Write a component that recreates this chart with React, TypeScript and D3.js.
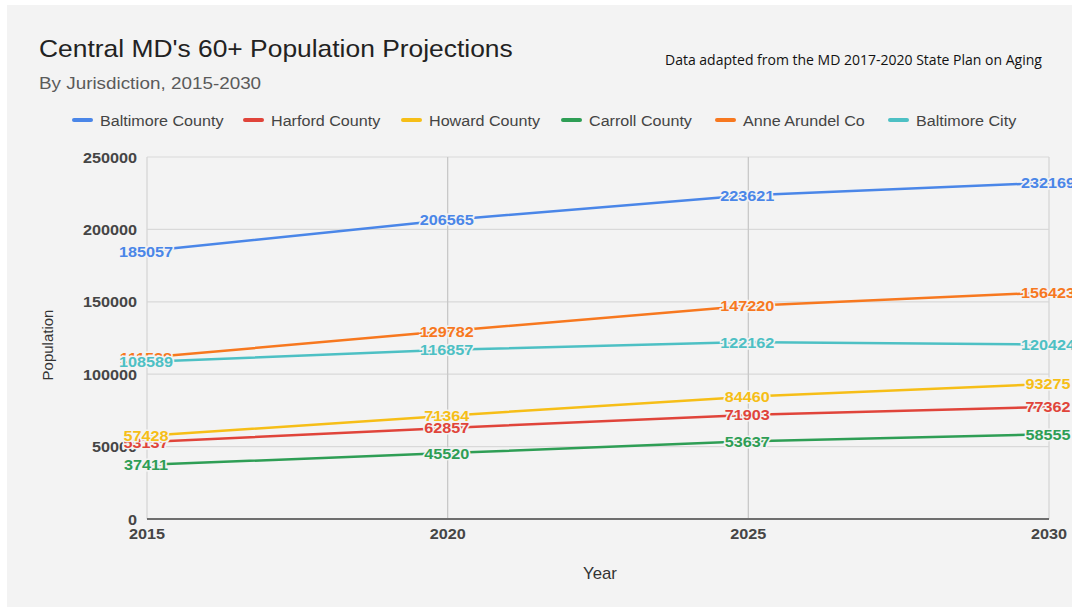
import * as d3 from "d3";
import React from "react";

const years = [2015, 2020, 2025, 2030];
const yTicks = [0, 50000, 100000, 150000, 200000, 250000];

const seriesNames = [
  "Baltimore County",
  "Harford County",
  "Howard County",
  "Carroll County",
  "Anne Arundel Co",
  "Baltimore City",
];
const seriesColors = ["#4a86e8", "#e0443a", "#f6be17", "#2e9e55", "#f7781f", "#4dc0c4"];

const baltimoreCounty = [185057, 206565, 223621, 232169];
const harfordCounty = [53137, 62857, 71903, 77362];
const howardCounty = [57428, 71364, 84460, 93275];
const carrollCounty = [37411, 45520, 53637, 58555];
const anneArundel = [111538, 129782, 147220, 156423];
const baltimoreCity = [108589, 116857, 122162, 120424];

const seriesValues = [
  baltimoreCounty,
  harfordCounty,
  howardCounty,
  carrollCounty,
  anneArundel,
  baltimoreCity,
];

// legend swatch x positions
const legendX = [74, 245, 403, 563, 717, 890];

const width = 1072;
const height = 607;
const bg = "#f3f3f3";

export default function App() {
  const svgRef = React.useRef<SVGSVGElement | null>(null);

  React.useEffect(() => {
    const svg = d3.select(svgRef.current);
    svg.selectAll("*").remove();
    const font = "Arial, 'Liberation Sans', sans-serif";

    // text that is a bit wider than the font draws it (the screenshot is stretched)
    const label = (
      parent: d3.Selection<any, any, any, any>,
      tx: number,
      ty: number,
      str: string,
      opts: { size: number; sx?: number; anchor?: string; weight?: string; fill?: string; family?: string }
    ) =>
      parent
        .append("text")
        .attr("transform", `translate(${tx},${ty}) scale(${opts.sx ?? 1},1)`)
        .attr("text-anchor", opts.anchor ?? "start")
        .attr("font-family", opts.family ?? font)
        .attr("font-size", opts.size)
        .attr("font-weight", opts.weight ?? "normal")
        .attr("fill", opts.fill ?? "#333")
        .text(str);

    svg.append("rect").attr("x", 7).attr("y", 5).attr("width", width - 7).attr("height", height - 5).attr("fill", bg);

    const x = d3.scalePoint<number>().domain(years).range([147, 1049]);
    const y = d3.scaleLinear().domain([0, 250000]).range([519, 157]);

    // horizontal grid
    svg
      .append("g")
      .selectAll("line")
      .data(yTicks.slice(1))
      .join("line")
      .attr("x1", 147)
      .attr("x2", 1049)
      .attr("y1", (d) => y(d))
      .attr("y2", (d) => y(d))
      .attr("stroke", "#d9d9d9")
      .attr("stroke-width", 1.2);

    // vertical grid
    svg
      .append("g")
      .selectAll("line")
      .data(years)
      .join("line")
      .attr("x1", (d) => x(d)!)
      .attr("x2", (d) => x(d)!)
      .attr("y1", 157)
      .attr("y2", 519)
      .attr("stroke", (d, i) => (i === 1 || i === 2 ? "#c8c8c8" : "#d6d6d6"))
      .attr("stroke-width", 1.3);

    // baseline
    svg.append("line").attr("x1", 147).attr("x2", 1049).attr("y1", y(0)).attr("y2", y(0)).attr("stroke", "#6e6e6e").attr("stroke-width", 2);

    // y tick labels
    const yAxis = svg.append("g");
    yTicks.forEach((t) =>
      label(yAxis, 137, y(t) + 5.5, String(t), { size: 15, sx: 1.08, anchor: "end", weight: "bold", fill: "#454545" })
    );

    // x tick labels
    const xAxis = svg.append("g");
    years.forEach((yr) =>
      label(xAxis, x(yr)!, 539, String(yr), { size: 15, sx: 1.08, anchor: "middle", weight: "bold", fill: "#454545" })
    );

    label(svg, 600, 579, "Year", { size: 16, sx: 1.05, anchor: "middle", fill: "#333" });

    svg
      .append("text")
      .attr("transform", "translate(53,345) rotate(-90)")
      .attr("text-anchor", "middle")
      .attr("font-family", font)
      .attr("font-size", 15)
      .attr("fill", "#333")
      .text("Population");

    // lines
    const line = d3
      .line<number>()
      .x((_, i) => x(years[i])!)
      .y((d) => y(d));

    seriesValues.forEach((vals, si) => {
      svg
        .append("path")
        .attr("d", line(vals) ?? null)
        .attr("fill", "none")
        .attr("stroke", seriesColors[si])
        .attr("stroke-width", 2.5);
    });

    // data labels
    seriesValues.forEach((vals, si) => {
      const g = svg.append("g");
      vals.forEach((v, i) =>
        label(g, x(years[i])! - 1, y(v) + 5.5, String(v), {
          size: 15,
          sx: 1.08,
          anchor: "middle",
          weight: "bold",
          fill: seriesColors[si],
        })
          .attr("stroke", bg)
          .attr("stroke-width", 3)
          .attr("paint-order", "stroke")
      );
    });

    // legend
    const legend = svg.append("g");
    seriesNames.forEach((name, i) => {
      legend
        .append("line")
        .attr("x1", legendX[i])
        .attr("x2", legendX[i] + 17)
        .attr("y1", 120)
        .attr("y2", 120)
        .attr("stroke", seriesColors[i])
        .attr("stroke-width", 4)
        .attr("stroke-linecap", "round");
      label(legend, legendX[i] + 26, 125.5, name, { size: 15.5, sx: 1.04, fill: "#444" });
    });

    // titles
    label(svg, 39, 57, "Central MD's 60+ Population Projections", { size: 24, sx: 1.1, fill: "#222" });
    label(svg, 39, 89, "By Jurisdiction, 2015-2030", { size: 17, sx: 1.11, fill: "#5a5a5a" });
    label(svg, 665, 65, "Data adapted from the MD 2017-2020 State Plan on Aging", {
      size: 14,
      family: "'Open Sans', 'Noto Sans', sans-serif",
      fill: "#111",
    });
  }, []);

  return (
    <>
      <style>{`body{margin:0;background:#fff}`}</style>
      <svg ref={svgRef} width={width} height={height} viewBox={`0 0 ${width} ${height}`} style={{ display: "block" }}></svg>
    </>
  );
}
